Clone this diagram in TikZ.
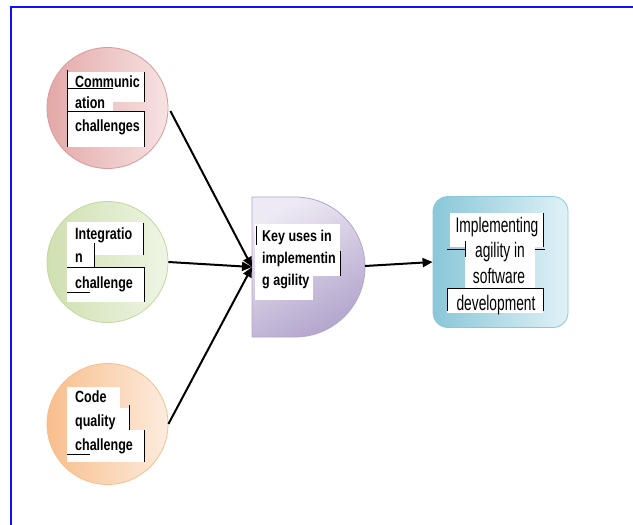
\documentclass[tikz,border=0pt]{standalone}
\usepackage{fontspec}
\setmainfont{Liberation Sans}
\usetikzlibrary{arrows.meta}
\definecolor{pinkD}{HTML}{E3A9A8}
\definecolor{pinkL}{HTML}{F7E3E3}
\definecolor{pinkE}{HTML}{D99A99}
\definecolor{grnD}{HTML}{CFE0B0}
\definecolor{grnL}{HTML}{EFF5E5}
\definecolor{grnE}{HTML}{C3D79F}
\definecolor{orgD}{HTML}{F8BE8C}
\definecolor{orgL}{HTML}{FDECDE}
\definecolor{orgE}{HTML}{F7BF8E}
\definecolor{purD}{HTML}{B3A5CC}
\definecolor{purL}{HTML}{EEEAF4}
\definecolor{bluD}{HTML}{8AC7D8}
\definecolor{bluL}{HTML}{E0F1F6}
\definecolor{frame}{HTML}{1010FF}
\begin{document}
\begin{tikzpicture}[x=1pt,y=-1pt,
  bubble/.style={circle,minimum size=121pt,inner sep=0pt,line width=0.8pt},
  lbl/.style={anchor=base west,inner sep=0pt,font=\fontsize{12.5}{14}\selectfont\bfseries},
  big/.style={anchor=base,inner sep=0pt,font=\fontsize{14.5}{18}\selectfont},
  bl/.style={black,line width=0.8pt},
  conn/.style={line width=2pt,-{Triangle[length=10pt,width=9pt]}}
]
\useasboundingbox (0,0) rectangle (633,525);
\draw[frame,line width=1.2pt] (11,525) -- (11,7) -- (633,7);

% circles
\node[bubble,draw=pinkE,left color=pinkD,right color=pinkL] (c1) at (107.5,108) {};
\node[bubble,draw=grnE,left color=grnD,right color=grnL] (c2) at (107.5,262) {};
\node[bubble,draw=orgE,left color=orgD,right color=orgL] (c3) at (107.5,424) {};

% D shape
\path[draw=purD,line width=0.8pt,top color=purL,bottom color=purD,shading angle=30]
  (252,197) -- (295,197) .. controls (333.66,197) and (365,228.34) .. (365,267)
  .. controls (365,305.66) and (333.66,337) .. (295,337) -- (252,337) -- cycle;
\coordinate (dw) at (252,267);
\coordinate (de) at (365,266);

% rounded rectangle
\node[draw=bluD,line width=0.8pt,rounded corners=15pt,minimum width=135pt,minimum height=131pt,
  inner sep=0pt,left color=bluD,right color=bluL] (r) at (500.5,262) {};

% --- Communication box
\fill[white] (67,72) rectangle (144,102);
\fill[white] (67,102) rectangle (113,111);
\fill[white] (67,111) rectangle (144,147);
\draw[bl] (67,70) -- (67,147);
\draw[bl] (67,88) -- (113,88);
\draw[bl] (144,72) -- (144,102);
\draw[bl] (67,111) -- (144,111);
\draw[bl] (144,111) -- (144,147);
\node[lbl] (t1a) at (75,87) {\scalebox{1}[1.3]{Communic}};
\node[lbl] (t1b) at (75,108) {\scalebox{1}[1.3]{ation}};
\node[lbl] (t1c) at (75,131) {\scalebox{1}[1.3]{challenges}};

% --- Integration box
\fill[white] (67,222) rectangle (143,255);
\fill[white] (67,255) rectangle (94,267);
\fill[white] (67,267) rectangle (144,302);
\draw[bl] (143,223) -- (143,255);
\draw[bl] (94,243) -- (94,267);
\draw[bl] (67,267) -- (144,267);
\draw[bl] (144,267) -- (144,302);
\draw[bl] (67,292) -- (90,292);
\node[lbl] (t2a) at (75,239) {\scalebox{1}[1.3]{Integratio}};
\node[lbl] (t2b) at (75,262) {\scalebox{1}[1.3]{n}};
\node[lbl] (t2c) at (75,288) {\scalebox{1}[1.3]{challenge}};

% --- Code quality box
\fill[white] (67,387) rectangle (120,408);
\fill[white] (67,408) rectangle (129,430);
\fill[white] (67,430) rectangle (144,462);
\draw[bl] (129,405) -- (129,430);
\draw[bl] (144,430) -- (144,462);
\draw[bl] (67,454) -- (90,454);
\node[lbl] (t3a) at (75,402) {\scalebox{1}[1.3]{Code}};
\node[lbl] (t3b) at (75,426) {\scalebox{1}[1.3]{quality}};
\node[lbl] (t3c) at (75,450) {\scalebox{1}[1.3]{challenge}};

% --- Key uses box
\fill[white] (255,224) rectangle (340,276);
\fill[white] (255,276) rectangle (313,300);
\draw[bl] (256,226) -- (256,245);
\draw[bl] (340,251) -- (340,276);
\node[lbl] (t4a) at (262,241) {\scalebox{1}[1.25]{Key uses in}};
\node[lbl] (t4b) at (262,263) {\scalebox{1}[1.25]{implementin}};
\node[lbl] (t4c) at (262,285) {\scalebox{1}[1.25]{g agility}};

% --- Implementing box
\fill[white] (450,213) rectangle (543,247);
\fill[white] (465,247) rectangle (535,290);
\fill[white] (447,288) rectangle (543,313);
\draw[bl] (543,213) -- (543,247);
\draw[bl] (447,249) -- (465,249);
\draw[bl] (465,241) -- (465,257);
\draw[bl] (535,249) -- (545,249);
\draw[bl] (447,288) -- (543,288);
\draw[bl] (447,288) -- (447,311);
\draw[bl] (543,288) -- (543,311);
\node[big] (t5a) at (497,232) {\scalebox{0.95}[1.45]{Implementing}};
\node[big] (t5b) at (500,257) {\scalebox{0.95}[1.45]{agility in}};
\node[big] (t5c) at (499,283) {\scalebox{0.95}[1.45]{software}};
\node[big] (t5d) at (496,310) {\scalebox{0.95}[1.45]{development}};

% connectors
\draw[conn] (c1.east) ++(2,3) coordinate (s1) (s1) -- (dw);
\draw[conn] (c2.east) -- (dw);
\draw[conn] (c3.east) -- (dw);
\draw[conn] (de) -- (r.west);
\end{tikzpicture}
\end{document}
